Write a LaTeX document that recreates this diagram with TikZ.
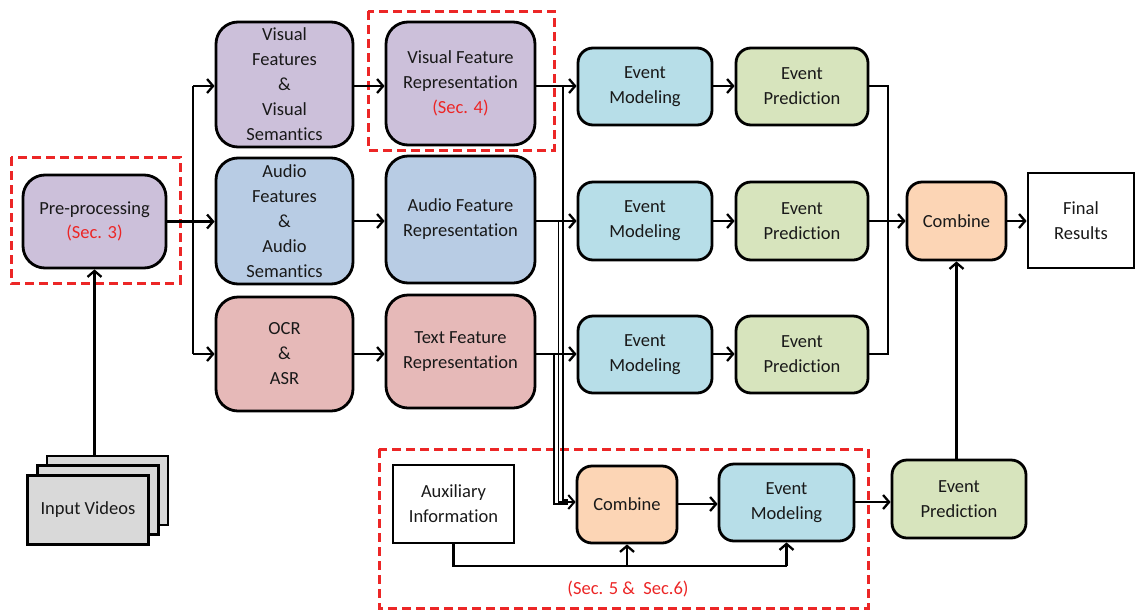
\documentclass[tikz,border=0pt]{standalone}
\usepackage{fontspec}
\setmainfont[RawFeature={-liga;-clig;-calt;-dlig}]{Carlito}
\usetikzlibrary{arrows.meta}
\definecolor{txt}{RGB}{25,25,25}
\definecolor{secred}{RGB}{236,38,38}
\definecolor{purp}{RGB}{204,192,218}
\definecolor{bluebox}{RGB}{184,204,228}
\definecolor{pinkbox}{RGB}{230,185,184}
\definecolor{cyanbox}{RGB}{183,222,232}
\definecolor{greenbox}{RGB}{215,228,189}
\definecolor{orangebox}{RGB}{252,213,181}
\definecolor{graybox}{RGB}{217,217,217}
\begin{document}
\begin{tikzpicture}[x=1pt,y=-1pt,
  every node/.style={font=\fontsize{18.5}{25}\selectfont, text=txt},
  blk/.style={draw=black, line width=2.8pt, rounded corners=22pt, align=center, inner sep=0pt},
  evt/.style={blk, rounded corners=15pt},
  plain/.style={draw=black, line width=2.8pt, align=center, inner sep=0pt},
  stack/.style={draw=black, line width=2.2pt, fill=graybox, minimum width=121pt, minimum height=69pt, align=center, inner sep=0pt},
  conn/.style={draw=black, line width=2.3pt, -{Straight Barb[length=6pt,width=14pt,line width=2.3pt]}},
  link/.style={draw=black, line width=2.3pt},
  thinline/.style={draw=black, line width=1.4pt},
  thinarrow/.style={thinline, -{Straight Barb[length=6pt,width=14pt,line width=2pt]}},
  secbox/.style={draw=secred, line width=3pt, dash pattern=on 9pt off 5pt},
  sec/.style={text=secred}
]
\useasboundingbox (0,0) rectangle (1137,611);

% row levels
\coordinate (r1) at (0,86);
\coordinate (r2) at (0,221);
\coordinate (r3) at (0,354);

% input stack
\node[stack] (vid3) at (107.5,490.5) {};
\node[stack] (vid2) at (98,500) {};
\node[stack] (vid1) at (88,510) {Input Videos};

% pre-processing
\node[blk, fill=purp, minimum width=143pt, minimum height=93pt] (pre) at (94.5,221.5) {Pre-processing\\[-1pt]\textcolor{secred}{(Sec. 3)}};

% modality extraction
\node[blk, fill=purp, minimum width=137pt, minimum height=125pt] (vf) at (284.5,84.5) {Visual\\Features\\\&\\Visual\\Semantics};
\node[blk, fill=bluebox, minimum width=137pt, minimum height=126pt] (af) at (284.5,221) {Audio\\Features\\\&\\Audio\\Semantics};
\node[blk, fill=pinkbox, minimum width=137pt, minimum height=114pt] (ocr) at (284.5,354) {OCR\\\&\\ASR};

% feature representation
\node[blk, fill=purp, minimum width=149pt, minimum height=123pt] (vr) at (460.5,83.5) {Visual Feature\\Representation\\\textcolor{secred}{(Sec. 4)}};
\node[blk, fill=bluebox, minimum width=149pt, minimum height=127pt] (ar) at (460.5,219.5) {Audio Feature\\Representation};
\node[blk, fill=pinkbox, minimum width=149pt, minimum height=113pt] (tr) at (460.5,351.5) {Text Feature\\Representation};

% per-modality event modeling and prediction
\node[evt, fill=cyanbox, minimum width=134pt, minimum height=77pt] (em1) at (645,86.5) {Event\\Modeling};
\node[evt, fill=cyanbox, minimum width=134pt, minimum height=78pt] (em2) at (645,221) {Event\\Modeling};
\node[evt, fill=cyanbox, minimum width=134pt, minimum height=77pt] (em3) at (645,354.5) {Event\\Modeling};
\node[evt, fill=greenbox, minimum width=132pt, minimum height=77pt] (ep1) at (802,86.5) {Event\\Prediction};
\node[evt, fill=greenbox, minimum width=132pt, minimum height=78pt] (ep2) at (802,221) {Event\\Prediction};
\node[evt, fill=greenbox, minimum width=132pt, minimum height=77pt] (ep3) at (802,354.5) {Event\\Prediction};

% late fusion
\node[evt, fill=orangebox, minimum width=99pt, minimum height=78pt] (comb) at (956.5,221) {Combine};
\node[plain, minimum width=106pt, minimum height=95pt] (final) at (1081,220.5) {Final\\Results};

% early fusion branch
\node[plain, minimum width=121pt, minimum height=78pt] (aux) at (453.5,504) {Auxiliary\\Information};
\node[evt, fill=orangebox, minimum width=100pt, minimum height=77pt] (comb2) at (627,504.5) {Combine};
\node[evt, fill=cyanbox, minimum width=135pt, minimum height=77pt] (em4) at (786.5,502.5) {Event\\Modeling};
\node[evt, fill=greenbox, minimum width=134pt, minimum height=78pt] (ep4) at (959,499) {Event\\Prediction};

% section frames
\draw[secbox] (11,157) rectangle (180,283);
\draw[secbox] (368,11) rectangle (554,150);
\draw[secbox] (379,449) rectangle (868,608);
\node[sec] (s56) at (628,589) {(Sec. 5 \&\ \ Sec.6)};

% input to pre-processing
\draw[conn] (pre.south |- vid3.north) -- (pre.south);

% pre-processing fan-out
\coordinate (fan) at (193,0);
\draw[link] (pre.east) -- (fan |- pre.east);
\draw[link] (fan |- r1) -- (fan |- r3);
\draw[conn] (fan |- r1) -- (vf.west |- r1);
\draw[conn] (pre.east) -- (af.west |- pre.east);
\draw[conn] (fan |- r3) -- (ocr.west |- r3);

% extraction to representation
\draw[conn] (vf.east |- r1) -- (vr.west |- r1);
\draw[conn] (af.east |- r2) -- (ar.west |- r2);
\draw[conn] (ocr.east |- r3) -- (tr.west |- r3);

% representation to event modeling
\draw[conn] (vr.east |- r1) -- (em1.west |- r1);
\draw[conn] (ar.east |- r2) -- (em2.west |- r2);
\draw[conn] (tr.east |- r3) -- (em3.west |- r3);

% representations routed to the early-fusion combine
\coordinate (bv) at (563,0);
\coordinate (ba) at (558.5,0);
\coordinate (bt) at (554,0);
\coordinate (cin) at ([xshift=-8pt]comb2.west);
\draw[thinline] (bv |- r1) |- (cin |- 0,500);
\draw[thinarrow] (ba |- r2) |- (comb2.west |- 0,502);
\draw[thinline] (bt |- r3) |- (cin |- 0,504);

% modeling to prediction
\draw[conn] (em1.east |- r1) -- (ep1.west |- r1);
\draw[conn] (em2.east |- r2) -- (ep2.west |- r2);
\draw[conn] (em3.east |- r3) -- (ep3.west |- r3);

% predictions to combine
\coordinate (col) at (888,0);
\draw[link] (ep1.east |- r1) -| (col |- r2);
\draw[link] (ep3.east |- r3) -| (col |- r2);
\draw[conn] (ep2.east |- r2) -- (comb.west |- r2);
\draw[conn] (comb.east |- r2) -- (final.west |- r2);
\draw[conn] (comb.south |- ep4.north) -- (comb.south);

% early fusion chain
\draw[conn] (comb2.east |- 0,504) -- (em4.west |- 0,504);
\draw[conn] (em4.east |- 0,502) -- (ep4.west |- 0,502);
\coordinate (auxbus) at (0,566);
\draw[link] (aux.south) |- (em4.south |- auxbus);
\draw[conn] (comb2.south |- auxbus) -- (comb2.south);
\draw[conn] (em4.south |- auxbus) -- (em4.south);
\end{tikzpicture}
\end{document}
